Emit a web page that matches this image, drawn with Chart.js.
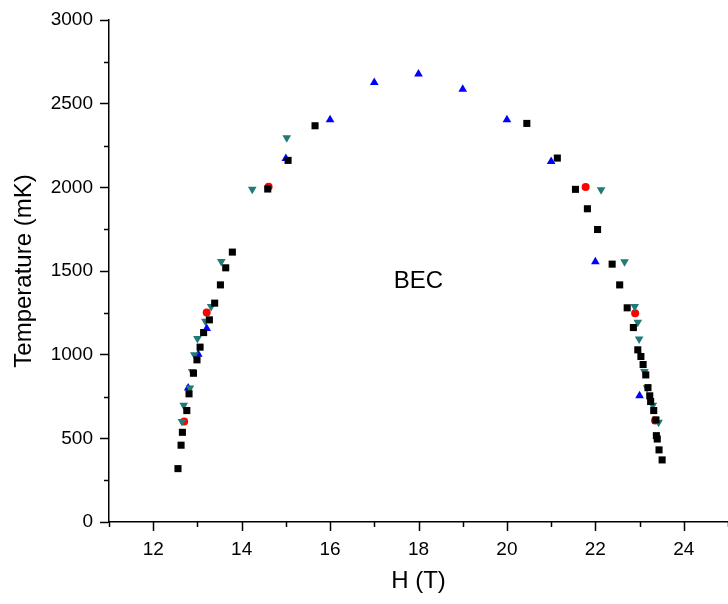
<!DOCTYPE html>
<html>
<head>
<meta charset="utf-8">
<script src="https://cdn.jsdelivr.net/npm/chart.js@4/dist/chart.umd.min.js"></script>
<style>
html,body{margin:0;padding:0;background:#fff;}
#wrap{width:728px;height:604px;position:relative;}
</style>
</head>
<body>
<div id="wrap"><canvas id="c" width="728" height="604"></canvas></div>
<script>
// Black squares
const blackH = [12.56,12.63,12.66,12.76,12.81,12.91,12.99,13.06,13.14,13.27,13.39,13.52,13.64,13.79,14.59,15.05,15.66,20.45,21.14,21.55,21.82,22.05,22.38,22.55,22.72,22.86,22.96,23.03,23.08,23.14,23.19,23.23,23.25,23.32,23.37,23.38,23.40,23.44,23.51];
const blackT = [319,459,536,666,766,889,969,1045,1132,1208,1308,1417,1519,1613,1990,2161,2368,2382,2175,1988,1872,1748,1541,1417,1280,1162,1029,989,941,879,803,754,720,666,610,516,496,431,371];
// Blue up-triangles
const blueH = [12.79,13.02,13.21,15.0,16.0,17.0,18.0,19.0,20.0,21.0,22.0,23.0];
const blueT = [801,1003,1156,2173,2404,2627,2677,2586,2404,2155,1555,754];
// Teal down-triangles
const tealH = [12.65,12.69,12.83,12.88,12.93,13.0,13.18,13.31,13.54,14.24,15.02,22.13,22.66,22.89,22.96,22.99,23.11,23.17,23.30,23.43];
const tealT = [600,698,801,899,999,1096,1200,1288,1557,1988,2297,1986,1555,1288,1194,1094,899,803,698,596];
// Red circles
const redH = [12.70,13.21,14.61,21.78,22.90,23.35];
const redT = [600,1252,2004,2002,1248,606];

const xTickLabels = [12,14,16,18,20,22,24];
const yTickLabels = [0,500,1000,1500,2000,2500,3000];

function pts(h, t){ return h.map((v,i)=>({x:v, y:t[i]})); }

const FONT = "'Liberation Sans', Arial, sans-serif";

const axisTicks = {
  id:'axisTicks',
  afterDraw(chart){
    const ctx = chart.ctx;
    const xs = chart.scales.x, ys = chart.scales.y;
    ctx.save();
    ctx.strokeStyle = '#000';
    ctx.lineWidth = 1.5;
    const yb = ys.getPixelForValue(0);
    for (let v = 11; v <= 25; v++) {
      const len = xTickLabels.includes(v) ? 9 : 5;
      const px = Math.round(xs.getPixelForValue(v)) + 0.5;
      ctx.beginPath(); ctx.moveTo(px, yb); ctx.lineTo(px, yb + len); ctx.stroke();
    }
    const xl = xs.getPixelForValue(11);
    for (let v = 250; v <= 3000; v += 500) {
      const py = Math.round(ys.getPixelForValue(v)) + 0.5;
      ctx.beginPath(); ctx.moveTo(xl, py); ctx.lineTo(xl - 5, py); ctx.stroke();
    }
    // BEC label
    ctx.fillStyle = '#000';
    ctx.font = '24px ' + FONT;
    ctx.textAlign = 'center';
    ctx.textBaseline = 'middle';
    ctx.fillText('BEC', xs.getPixelForValue(18), ys.getPixelForValue(1440));
    ctx.restore();
  }
};

new Chart(document.getElementById('c'), {
  type: 'scatter',
  data: {
    datasets: [
      {data: pts(blackH, blackT), pointStyle:'rect', pointRadius:5, backgroundColor:'#000', borderColor:'#000', borderWidth:0, clip:false},
      {data: pts(tealH, tealT), pointStyle:'triangle', rotation:180, pointRadius:5, backgroundColor:'#1f7a78', borderColor:'#1f7a78', borderWidth:0, clip:false},
      {data: pts(blueH, blueT), pointStyle:'triangle', pointRadius:5, backgroundColor:'#0000ff', borderColor:'#0000ff', borderWidth:0, clip:false},
      {data: pts(redH, redT), pointStyle:'circle', pointRadius:4, backgroundColor:'#ff0000', borderColor:'#ff0000', borderWidth:0, clip:false}
    ]
  },
  options: {
    responsive:false,
    animation:false,
    events:[],
    layout:{autoPadding:false, padding:{top:20,right:0,left:0,bottom:0}},
    plugins:{legend:{display:false}, tooltip:{enabled:false}},
    scales:{
      x:{
        type:'linear', min:11, max:25,
        afterFit(s){ s.height = 82; },
        border:{color:'#000', width:1.5},
        grid:{drawOnChartArea:false, drawTicks:true, tickLength:16, tickWidth:1.5,
          tickColor:'rgba(0,0,0,0)'},
        ticks:{stepSize:1, autoSkip:false, maxRotation:0, padding:0, color:'#000',
          font:{family:FONT, size:19},
          callback:(v)=> xTickLabels.includes(v) ? String(v) : ''},
        title:{display:true, text:'H (T)', color:'#000', font:{family:FONT, size:24}, padding:{top:0,bottom:8}}
      },
      y:{
        type:'linear', min:0, max:3000,
        afterFit(s){ s.width = 109; },
        border:{color:'#000', width:1.5},
        grid:{drawOnChartArea:false, drawTicks:true, tickLength:9, tickWidth:1.5,
          tickColor:(c)=> yTickLabels.includes(c.tick && c.tick.value) ? '#000' : 'rgba(0,0,0,0)'},
        ticks:{stepSize:250, autoSkip:false, padding:7, color:'#000',
          font:{family:FONT, size:19},
          callback:(v)=> yTickLabels.includes(v) ? String(v) : ''},
        title:{display:true, text:'Temperature (mK)', color:'#000', font:{family:FONT, size:24}, padding:{top:10,bottom:0}}
      }
    }
  },
  plugins:[axisTicks]
});
</script>
</body>
</html>
